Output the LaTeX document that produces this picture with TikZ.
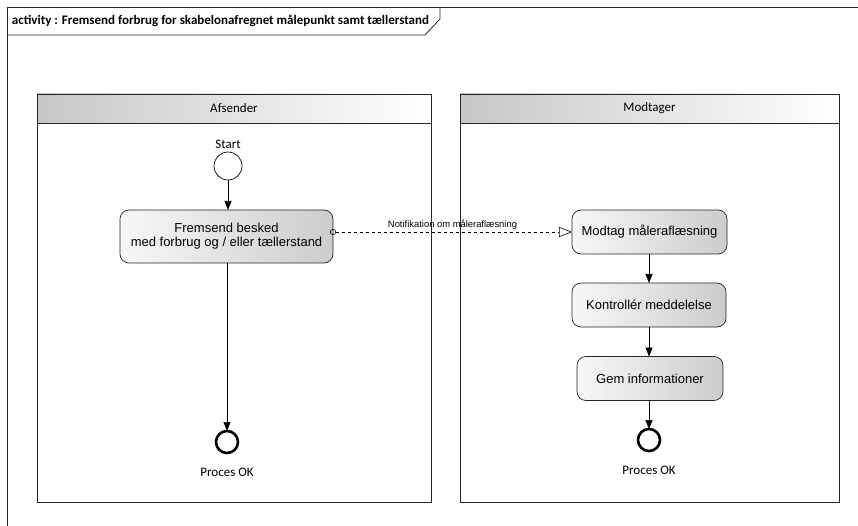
\documentclass[tikz,border=0pt]{standalone}
\usepackage{fontspec}
\setmainfont{Carlito}
\newfontfamily\arialfont{Liberation Sans}
\usetikzlibrary{arrows.meta,calc}
\begin{document}
\begin{tikzpicture}[x=1pt,y=-1pt,
  every node/.style={inner sep=0pt, outer sep=0pt},
  lanehead/.style={draw=black!85, line width=0.8pt, left color=black!22, right color=white, anchor=north west, font=\fontsize{13}{15}\selectfont},
  lanebody/.style={draw=black!85, line width=0.8pt, fill=white, anchor=north west},
  action/.style={draw=black!85, line width=0.7pt, rounded corners=9pt, left color=black!3, right color=black!20, font=\arialfont\fontsize{13}{15}\selectfont, align=center},
  startnode/.style={circle, draw=black, line width=0.7pt, fill=white, minimum size=28pt},
  finalnode/.style={circle, draw=black, line width=2.6pt, fill=white, minimum size=22pt},
  lbl/.style={font=\fontsize{13}{15}\selectfont},
  flow/.style={draw=black, line width=0.7pt, -{Triangle[length=9pt,width=7pt]}},
  msg/.style={draw=black, line width=0.6pt, dashed, {Circle[open,length=6pt,width=6pt]}-{Triangle[open,length=13pt,width=10pt]}, shorten <=-3pt}
]
\useasboundingbox (0,0) rectangle (858,526);
% outer frame
\draw[black!85, line width=0.8pt] (7,530) -- (7,7) -- (862,7);
\draw[black!85, line width=0.8pt] (7,35) -- (425,35) -- (440,19) -- (440,7);
\node[anchor=west, font=\bfseries\fontsize{13}{15}\selectfont] (title) at (12,21) {activity : Fremsend forbrug for skabelonafregnet målepunkt samt tællerstand};
% lanes
\node[lanebody, minimum width=394pt, minimum height=408pt] (bodyA) at (37,94) {};
\node[lanehead, minimum width=394pt, minimum height=29pt] (headA) at (37,94) {Afsender};
\node[lanebody, minimum width=379pt, minimum height=408pt] (bodyB) at (460,94) {};
\node[lanehead, minimum width=379pt, minimum height=29pt] (headB) at (460,94) {Modtager};
% left lane
\node[startnode] (start) at (228,166) {};
\node[lbl, anchor=south] (startlbl) at ($(start.north)+(0,-3)$) {Start};
\node[action, minimum width=213pt, minimum height=53pt] (fremsend) at (226.5,236.5) {Fremsend besked\\[-1pt]med forbrug og / eller tællerstand};
\node[finalnode] (endA) at (227,442) {};
\node[lbl, anchor=north] (endAlbl) at ($(endA.south)+(0,15)$) {Proces OK};
% right lane
\node[action, minimum width=155pt, minimum height=44pt] (modtag) at (649.5,232) {Modtag måleraflæsning};
\node[action, minimum width=154pt, minimum height=44pt] (kontrol) at (649,305) {Kontrollér meddelelse};
\node[action, minimum width=146pt, minimum height=44pt] (gem) at (650,378.5) {Gem informationer};
\node[finalnode] (endB) at (649,440) {};
\node[lbl, anchor=north] (endBlbl) at ($(endB.south)+(0,15)$) {Proces OK};
% flows
\draw[flow] (start) -- (start |- fremsend.north);
\draw[flow] (fremsend.south -| endA) -- (endA);
\draw[flow] (modtag.south -| kontrol) -- (kontrol);
\draw[flow] (kontrol.south -| endB) -- (gem.north -| endB);
\draw[flow] (gem.south -| endB) -- (endB);
\draw[msg] (fremsend.east |- modtag.west) -- node[above=3pt, font=\arialfont\fontsize{9.4}{11}\selectfont] {Notifikation om måleraflæsning} (modtag.west);
\end{tikzpicture}
\end{document}
